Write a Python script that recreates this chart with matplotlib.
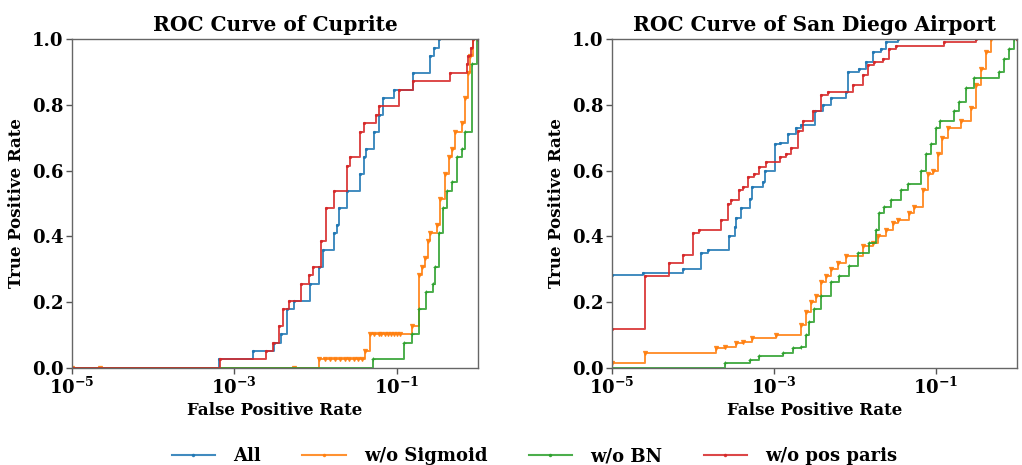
import matplotlib
matplotlib.use("Agg")
import matplotlib.pyplot as plt
from matplotlib.lines import Line2D

plt.rcParams["font.family"] = ["DejaVu Serif"]
plt.rcParams["font.weight"] = "bold"
plt.rcParams["mathtext.fontset"] = "custom"
plt.rcParams["mathtext.rm"] = "DejaVu Serif:bold"
plt.rcParams["mathtext.it"] = "DejaVu Serif:bold"
plt.rcParams["mathtext.bf"] = "DejaVu Serif:bold"
plt.rcParams["mathtext.default"] = "rm"

# ---- ROC curves, stored as (fpr, tpr) corner points of each staircase ----
series_names = ["All", "w/o Sigmoid", "w/o BN", "w/o pos paris"]
series_colors = ["#1f77b4", "#ff7f0e", "#2ca02c", "#d62728"]
series_markers = [".", "v", "+", "."]

# Cuprite
cup_all_fpr = [1e-5, 6.4e-4, 1.7e-3, 3.05e-3, 3.75e-3, 4.5e-3, 5.4e-3, 8.45e-3, 1.12e-2, 1.23e-2,
               1.70e-2, 1.85e-2, 1.96e-2, 2.44e-2, 3.49e-2, 3.91e-2, 4.22e-2, 5.19e-2, 5.98e-2,
               6.76e-2, 9.33e-2, 0.161, 0.259, 0.292, 0.337, 1.0]
cup_all_tpr = [0.0, 0.026, 0.051, 0.077, 0.103, 0.179, 0.205, 0.256, 0.308, 0.359,
               0.410, 0.436, 0.487, 0.538, 0.590, 0.641, 0.667, 0.718, 0.769,
               0.821, 0.846, 0.897, 0.949, 0.974, 1.0, 1.0]

cup_sig_fpr = [1e-5, 2.2e-5, 5.5e-3, 1.09e-2, 1.3e-2, 1.5e-2, 1.75e-2, 2.0e-2, 2.3e-2, 2.6e-2,
               3.0e-2, 3.3e-2, 3.7e-2, 4.09e-2, 4.72e-2, 5.3e-2, 6.0e-2, 6.5e-2, 7.2e-2,
               7.8e-2, 8.5e-2, 9.2e-2, 0.100, 0.110, 0.154, 0.186, 0.204, 0.224, 0.242, 0.259,
               0.313, 0.344, 0.396, 0.436, 0.479, 0.526, 0.635, 0.698, 0.767, 0.805, 0.867, 1.0]
cup_sig_tpr = [0.0, 0.0, 0.0, 0.026, 0.026, 0.026, 0.026, 0.026, 0.026, 0.026,
               0.026, 0.026, 0.026, 0.051, 0.103, 0.103, 0.103, 0.103, 0.103,
               0.103, 0.103, 0.103, 0.103, 0.103, 0.128, 0.282, 0.308, 0.333, 0.385, 0.410,
               0.436, 0.513, 0.590, 0.641, 0.667, 0.718, 0.744, 0.821, 0.897, 0.949, 1.0, 1.0]

cup_bn_fpr = [1e-5, 5.09e-2, 0.122, 0.154, 0.186, 0.231, 0.277, 0.298, 0.337, 0.378,
              0.415, 0.479, 0.551, 0.635, 0.698, 0.843, 0.973, 1.0]
cup_bn_tpr = [0.0, 0.026, 0.077, 0.103, 0.179, 0.231, 0.256, 0.308, 0.410, 0.487,
              0.538, 0.564, 0.641, 0.667, 0.718, 0.923, 1.0, 1.0]

cup_pos_fpr = [1e-5, 6.7e-4, 2.45e-3, 2.96e-3, 3.6e-3, 3.97e-3, 4.66e-3, 6.6e-3, 8.22e-3,
               9.3e-3, 1.17e-2, 1.36e-2, 1.67e-2, 2.44e-2, 2.68e-2, 3.56e-2, 3.91e-2,
               5.6e-2, 5.98e-2, 0.107, 0.161, 0.456, 0.733, 0.767, 0.828, 0.885, 1.0]
cup_pos_tpr = [0.0, 0.026, 0.051, 0.077, 0.128, 0.179, 0.205, 0.256, 0.282,
               0.308, 0.385, 0.487, 0.538, 0.615, 0.641, 0.718, 0.744,
               0.769, 0.795, 0.846, 0.872, 0.897, 0.923, 0.949, 0.974, 1.0, 1.0]

# San Diego Airport
sd_all_fpr = [1e-5, 2.45e-5, 7.5e-5, 1.26e-4, 1.53e-4, 2.75e-4, 3.26e-4, 3.41e-4, 3.94e-4,
              4.99e-4, 5.32e-4, 7.28e-4, 7.85e-4, 1.04e-3, 1.17e-3, 1.48e-3, 1.88e-3,
              2.16e-3, 3.24e-3, 4.0e-3, 5.06e-3, 7.74e-3, 8.13e-3, 1.13e-2, 1.37e-2,
              1.68e-2, 2.09e-2, 2.42e-2, 3.36e-2, 1.0]
sd_all_tpr = [0.283, 0.290, 0.300, 0.350, 0.360, 0.400, 0.430, 0.455, 0.485,
              0.515, 0.550, 0.565, 0.600, 0.680, 0.685, 0.710, 0.730,
              0.740, 0.780, 0.800, 0.820, 0.840, 0.900, 0.910, 0.930,
              0.960, 0.970, 0.990, 1.0, 1.0]

sd_sig_fpr = [1e-5, 2.53e-5, 1.93e-4, 2.45e-4, 3.41e-4, 4.12e-4, 5.32e-4, 1.06e-3, 2.16e-3,
              2.49e-3, 2.87e-3, 3.31e-3, 3.81e-3, 4.40e-3, 5.06e-3, 6.12e-3, 7.74e-3,
              1.25e-2, 1.65e-2, 1.91e-2, 2.42e-2, 2.92e-2, 3.36e-2, 4.68e-2, 5.40e-2,
              6.84e-2, 7.87e-2, 9.08e-2, 0.105, 0.120, 0.139, 0.203, 0.270, 0.310,
              0.358, 0.413, 0.475, 1.0]
sd_sig_tpr = [0.015, 0.045, 0.060, 0.065, 0.075, 0.080, 0.090, 0.100, 0.130,
              0.170, 0.200, 0.220, 0.260, 0.280, 0.300, 0.320, 0.340,
              0.370, 0.380, 0.400, 0.420, 0.440, 0.450, 0.470, 0.490,
              0.540, 0.590, 0.600, 0.650, 0.700, 0.730, 0.750, 0.790, 0.860,
              0.910, 0.960, 1.0, 1.0]

sd_bn_fpr = [1e-5, 2.45e-4, 4.99e-4, 6.62e-4, 1.29e-3, 1.71e-3, 2.16e-3, 2.49e-3, 2.74e-3,
             3.16e-3, 3.81e-3, 5.06e-3, 6.41e-3, 8.51e-3, 1.08e-2, 1.50e-2, 1.82e-2,
             2.0e-2, 2.30e-2, 2.78e-2, 3.70e-2, 4.47e-2, 6.52e-2, 7.52e-2, 8.65e-2,
             9.98e-2, 0.112, 0.168, 0.194, 0.234, 0.296, 0.603, 0.695, 0.800, 0.923, 1.0]
sd_bn_tpr = [0.0, 0.015, 0.025, 0.035, 0.045, 0.060, 0.065, 0.100, 0.140,
             0.180, 0.220, 0.260, 0.280, 0.310, 0.350, 0.380, 0.420,
             0.470, 0.490, 0.510, 0.540, 0.560, 0.600, 0.650, 0.680,
             0.730, 0.750, 0.780, 0.810, 0.850, 0.880, 0.900, 0.940, 0.970, 1.0, 1.0]

sd_pos_fpr = [1e-5, 2.53e-5, 5.0e-5, 7.5e-5, 9.98e-5, 1.2e-4, 2.23e-4, 2.69e-4, 2.96e-4,
              3.75e-4, 4.12e-4, 4.75e-4, 5.74e-4, 6.62e-4, 8.0e-4, 1.17e-3, 1.41e-3,
              1.63e-3, 1.96e-3, 2.26e-3, 3.07e-3, 3.81e-3, 4.60e-3, 9.38e-3, 1.24e-2,
              1.44e-2, 1.73e-2, 2.19e-2, 2.65e-2, 3.21e-2, 0.126, 0.311, 1.0]
sd_pos_tpr = [0.120, 0.280, 0.320, 0.345, 0.410, 0.420, 0.450, 0.500, 0.510,
              0.540, 0.550, 0.580, 0.590, 0.610, 0.625, 0.640, 0.650,
              0.670, 0.720, 0.750, 0.780, 0.830, 0.840, 0.860, 0.890,
              0.920, 0.930, 0.940, 0.970, 0.980, 0.990, 1.0, 1.0]

panels = [
    ("ROC Curve of Cuprite",
     [(cup_all_fpr, cup_all_tpr), (cup_sig_fpr, cup_sig_tpr),
      (cup_bn_fpr, cup_bn_tpr), (cup_pos_fpr, cup_pos_tpr)]),
    ("ROC Curve of San Diego Airport",
     [(sd_all_fpr, sd_all_tpr), (sd_sig_fpr, sd_sig_tpr),
      (sd_bn_fpr, sd_bn_tpr), (sd_pos_fpr, sd_pos_tpr)]),
]

x_ticks = [1e-5, 1e-3, 1e-1]
x_tick_labels = ["$10^{-5}$", "$10^{-3}$", "$10^{-1}$"]
y_ticks = [0.0, 0.2, 0.4, 0.6, 0.8, 1.0]

fig = plt.figure(figsize=(10.22, 4.65), dpi=100)
axes_rects = [[0.0705, 0.2086, 0.3970, 0.7075], [0.5988, 0.2086, 0.3963, 0.7075]]

for rect, (title, curves) in zip(axes_rects, panels):
    ax = fig.add_axes(rect)
    for (fpr, tpr), color, marker in zip(curves, series_colors, series_markers):
        ax.plot(fpr, tpr, drawstyle="steps-post", color=color, lw=1.4,
                marker=marker, markersize=3, markeredgewidth=0.8, alpha=0.85)
    ax.set_xscale("log")
    ax.set_xlim(1e-5, 1.0)
    ax.set_ylim(0.0, 1.0)
    ax.set_xticks(x_ticks)
    ax.set_xticklabels(x_tick_labels)
    ax.xaxis.set_minor_locator(matplotlib.ticker.NullLocator())
    ax.set_yticks(y_ticks)
    ax.set_yticklabels([f"{v:.1f}" for v in y_ticks])
    ax.tick_params(labelsize=13, length=4, width=1, color="#555555", pad=2)
    for s in ax.spines.values():
        s.set_color("#666666")
        s.set_linewidth(1.0)
    ax.set_title(title, fontsize=14.5, fontweight="bold", pad=6)
    ax.set_xlabel("False Positive Rate", fontsize=12, fontweight="bold", labelpad=3)
    ax.set_ylabel("True Positive Rate", fontsize=12, fontweight="bold", labelpad=5)

handles = [Line2D([], [], color=c, marker=".", markersize=3, lw=1.5, alpha=0.85)
           for c in series_colors]
fig.legend(handles, series_names, loc="lower center", ncol=4, frameon=False,
           bbox_to_anchor=(0.523, -0.035), handlelength=2.4, handletextpad=1.0,
           columnspacing=2.3, prop={"weight": "bold", "size": 13})

fig.savefig("out.png", dpi=100)
